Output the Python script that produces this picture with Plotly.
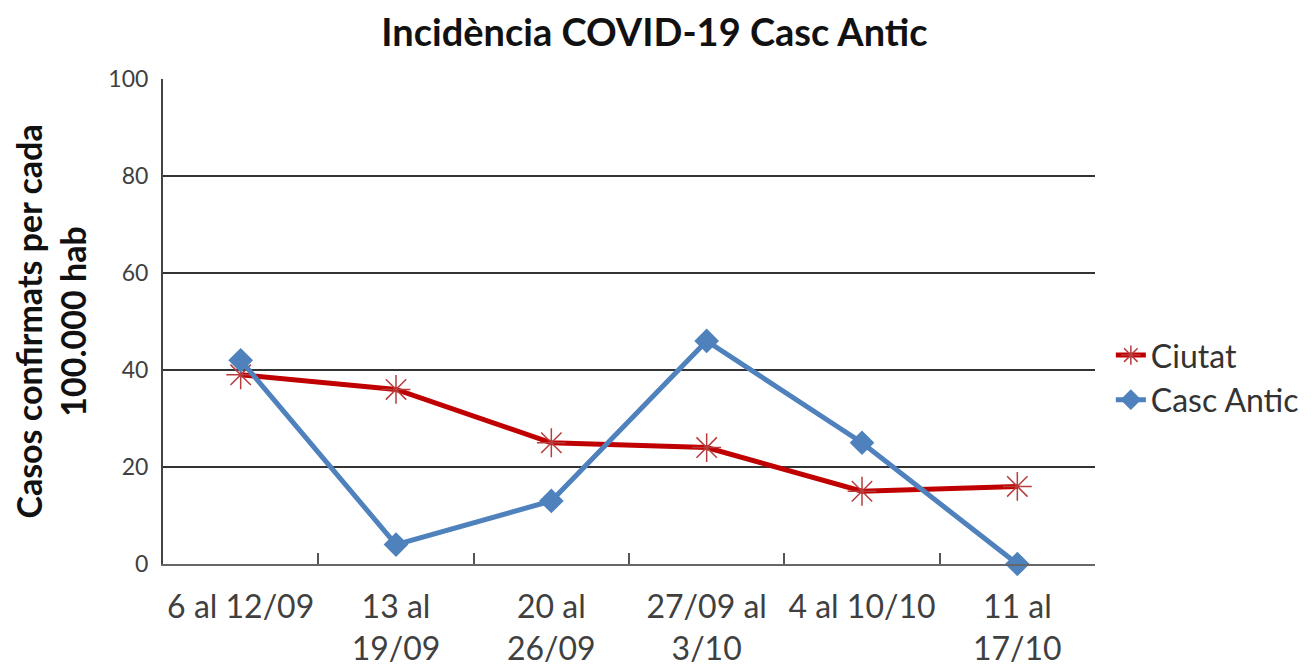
import plotly.graph_objects as go

categories = ["6 al 12/09", "13 al<br>19/09", "20 al<br>26/09", "27/09 al<br>3/10", "4 al 10/10", "11 al<br>17/10"]
ciutat = [39, 36, 25, 24, 15, 16]
casc_antic = [42, 4, 13, 46, 25, 0]
y_ticks = [0, 20, 40, 60, 80, 100]

FONT = "Lato"

fig = go.Figure()
fig.add_trace(go.Scatter(
    x=categories, y=ciutat, name="Ciutat", mode="lines+markers",
    line=dict(color="#C00000", width=5),
    marker=dict(symbol="asterisk-open", size=24, color="#B83C3C", line=dict(color="#B83C3C", width=1.5)),
    cliponaxis=False,
))
fig.add_trace(go.Scatter(
    x=categories, y=casc_antic, name="Casc Antic", mode="lines+markers",
    line=dict(color="#4F81BD", width=5),
    marker=dict(symbol="diamond", size=19, color="#4F81BD"),
    cliponaxis=False,
))

fig.update_layout(
    width=1314, height=665,
    margin=dict(l=155, r=227, t=71, b=109, autoexpand=False),
    paper_bgcolor="white", plot_bgcolor="white",
    title=dict(text="<b>Incidència COVID-19 Casc Antic</b>", x=0.492, xanchor="center",
               y=0.963, yanchor="middle",
               font=dict(family=FONT, size=38, color="#111111")),
    font=dict(family=FONT, size=25, color="#404040"),
    legend=dict(x=1.017, xanchor="left", y=0.487, yanchor="top",
                font=dict(family=FONT, size=32, color="#333333"),
                bgcolor="rgba(0,0,0,0)", tracegroupgap=0),
    showlegend=True,
)
fig.update_xaxes(
    type="category", range=[-0.5, 5.5], automargin=False, tickangle=0,
    showline=True, linecolor="#666666", linewidth=2,
    showgrid=False, ticks="inside", tickson="boundaries", ticklen=11,
    tickcolor="#555555", tickwidth=1.5, ticklabelstandoff=14,
    tickfont=dict(family=FONT, size=32, color="#404040"),
)
fig.update_yaxes(
    range=[0, 100], tickvals=y_ticks, automargin=False,
    showline=True, linecolor="#444444", linewidth=2,
    showgrid=True, gridcolor="#333333", gridwidth=1.5,
    ticks="", ticklabelstandoff=8,
    zeroline=False,
    tickfont=dict(family=FONT, size=23, color="#404040"),
    title=dict(text="<b>Casos confirmats per cada<br>100.000 hab</b>",
               font=dict(family=FONT, size=34, color="#111111"), standoff=20),
)

fig.write_html("out.html")
